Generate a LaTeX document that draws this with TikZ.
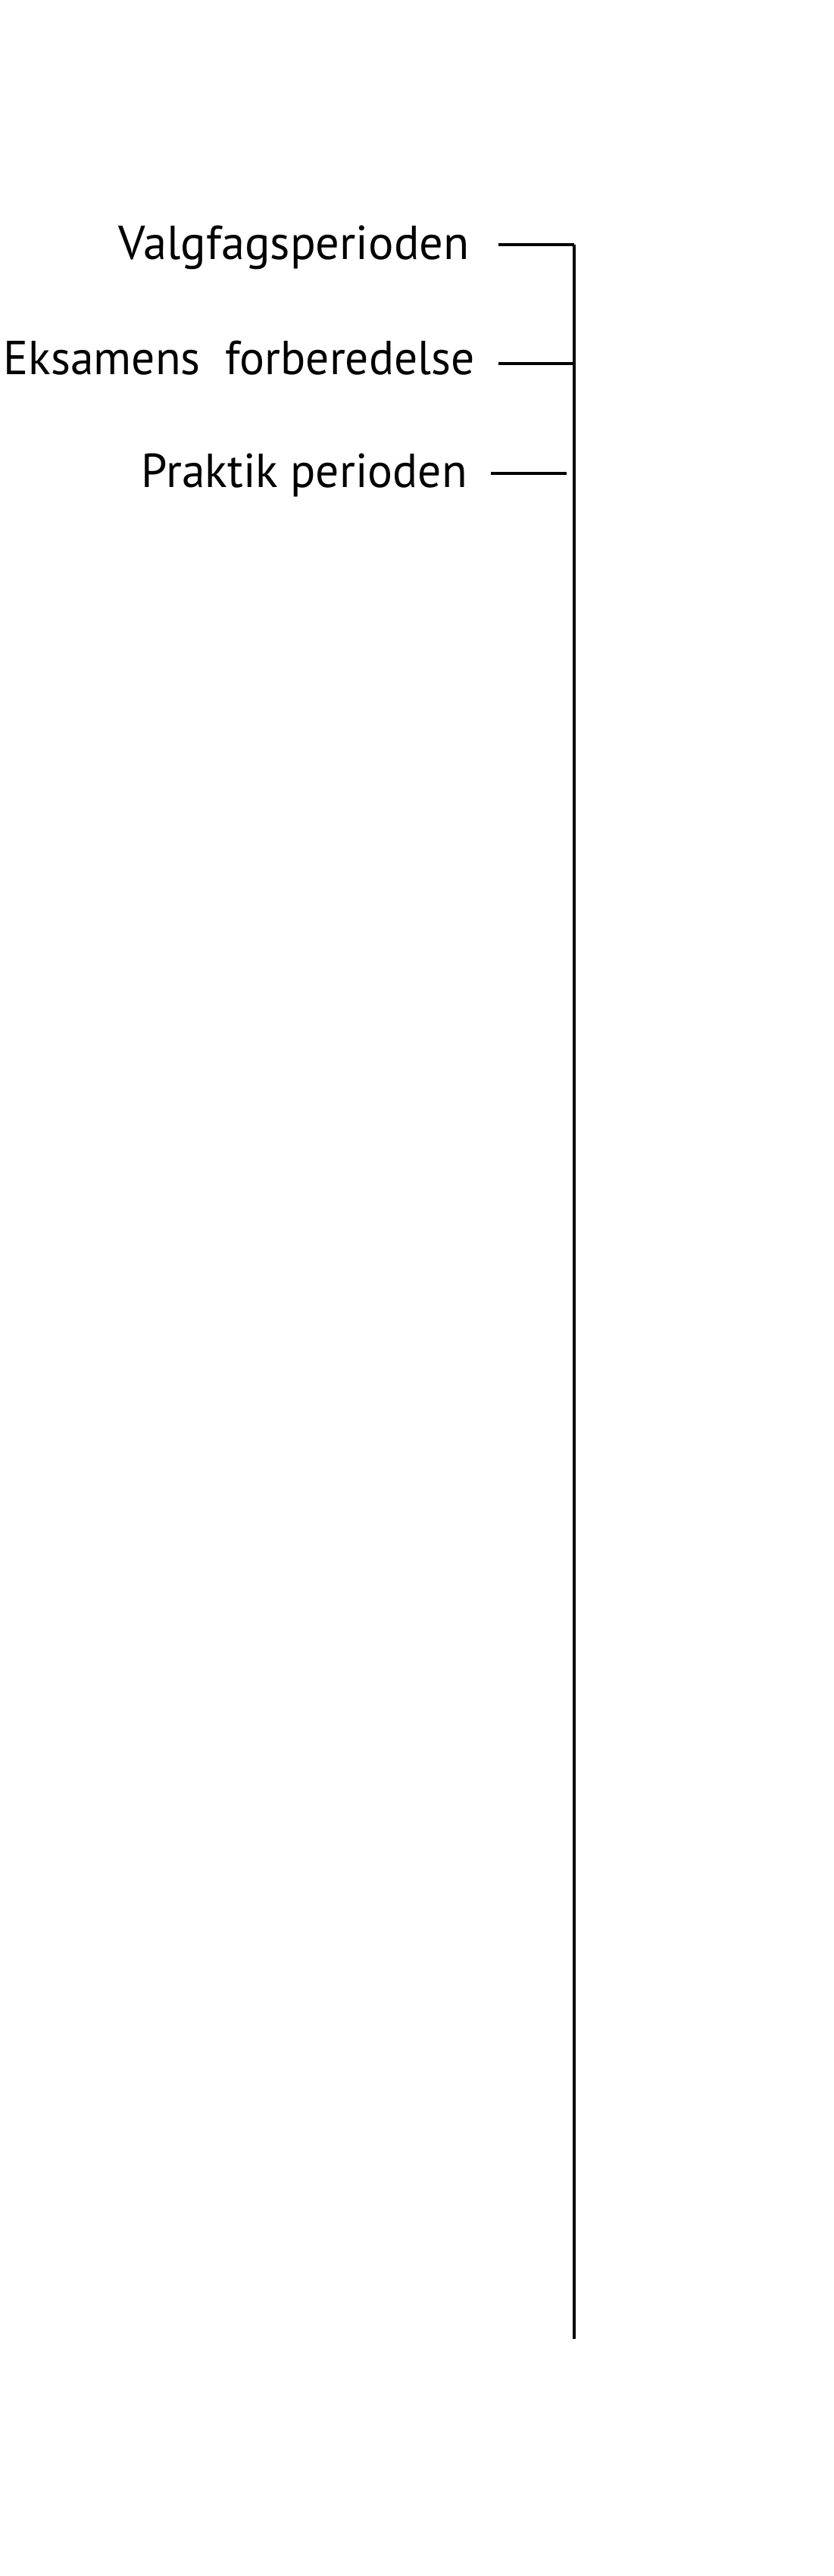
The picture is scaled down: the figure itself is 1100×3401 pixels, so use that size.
\documentclass[tikz,border=0pt]{standalone}
\usepackage{fontspec}
\setmainfont{PT Sans}
\newcommand{\fitw}[2]{\resizebox{#1}{\height}{#2}}
\begin{document}
\begin{tikzpicture}[x=1pt,y=-1pt,
  lbl/.style={anchor=base east,inner sep=0pt,font=\fontsize{63}{70}\selectfont},
  tick/.style={line width=3.3pt},
  spine/.style={line width=3.6pt}]
\useasboundingbox[fill=white] (0,0) rectangle (1100,3401);
\node[lbl] (v) at (620,342) {\fitw{463pt}{Valgfagsperioden}};
\node[lbl] (e) at (627,494) {\fitw{622pt}{Eksamens\ \ forberedelse}};
\node[lbl] (p) at (617,643) {\fitw{430pt}{Praktik perioden}};
\coordinate (top) at (758,323);
\coordinate (bot) at (758,3088);
\coordinate (vs) at (658,323);
\coordinate (es) at (658,480);
\coordinate (ej) at (758,480);
\coordinate (ps) at (648,625);
\coordinate (pe) at (748,625);
\draw[spine] (top) -- (bot);
\draw[tick,line join=miter] (vs) -- (top);
\draw[tick] (es) -- (ej);
\draw[tick] (ps) -- (pe);
\end{tikzpicture}
\end{document}
